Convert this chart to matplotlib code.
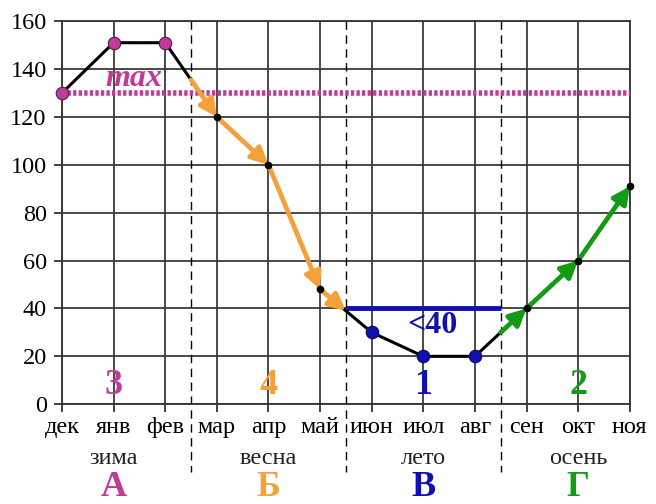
import numpy as np
import matplotlib
matplotlib.use('Agg')
import matplotlib.pyplot as plt

# data
months = ['дек', 'янв', 'фев', 'мар', 'апр', 'май', 'июн', 'июл', 'авг', 'сен', 'окт', 'ноя']
values = [130, 151, 151, 120, 100, 48, 30, 20, 20, 40, 60, 91]
seasons = ['зима', 'весна', 'лето', 'осень']
letters = ['А', 'Б', 'В', 'Г']
season_nums = ['3', '4', '1', '2']
season_centers = [1, 4, 7, 10]
boundaries = [2.5, 5.5, 8.5]
max_level = 130
low_level = 40

magenta = '#c23a98'
orange = '#f5a03a'
blue = '#1010b0'
green = '#159a15'
season_colors = [magenta, orange, blue, green]

plt.rcParams['font.family'] = ['Liberation Serif', 'DejaVu Serif']

x = np.arange(len(months))
fig = plt.figure(figsize=(6.56, 5.04), dpi=100)
ax = fig.add_axes([0.0945, 0.198, 0.8655, 0.760])

ax.set_xlim(0, 11)
ax.set_ylim(0, 160)
ax.set_xticks(x)
ax.set_xticklabels(months)
ax.set_yticks(range(0, 161, 20))
ax.tick_params(axis='both', labelsize=17.5, length=6, width=1.2, color='#222222')
ax.tick_params(axis='x', pad=3)
ax.tick_params(axis='y', pad=5)
ax.grid(True, color='#3a3a3a', linewidth=1.3)
for s in ax.spines.values():
    s.set_color('#333333')
    s.set_linewidth(1.3)
ax.set_axisbelow(True)

# season boundaries (dashed, run down into the labels)
for b in boundaries:
    ax.plot([b, b], [160, -28.5], color='black', linestyle=(0, (6, 4)),
            linewidth=1.0, clip_on=False, zorder=2)

# max level and "<40" line
ax.plot([0, 11], [max_level, max_level], color=magenta, linewidth=4,
        linestyle=(0, (0.6, 0.4)), zorder=3)
ax.plot([boundaries[1], boundaries[2]], [low_level, low_level], color=blue,
        linewidth=3.5, solid_capstyle='butt', zorder=3)

# main line
ax.plot(x, values, color='black', linewidth=2.2, zorder=4)


def arrows(xs, color):
    ys = np.interp(xs, x, values)
    for i in range(len(xs) - 1):
        ax.annotate('', xy=(xs[i + 1], ys[i + 1]), xytext=(xs[i], ys[i]),
                    arrowprops=dict(arrowstyle='-|>,head_length=1.0,head_width=0.5',
                                    color=color, lw=3.4, shrinkA=0, shrinkB=0),
                    zorder=5)


arrows([2.5, 3, 4, 5, 5.5], orange)
arrows([8.5, 9, 10, 11], green)

# markers
ax.plot(x[0:3], values[0:3], 'o', color=magenta, markersize=9,
        markeredgecolor='#5a1a48', markeredgewidth=0.8, zorder=6, clip_on=False)
ax.plot(x[6:9], values[6:9], 'o', color=blue, markersize=9,
        markeredgecolor='#0a0a60', markeredgewidth=0.8, zorder=6, clip_on=False)
for i in [3, 4, 5, 9, 10, 11]:
    ax.plot(x[i], values[i], 'o', color='black', markersize=4.5, zorder=6, clip_on=False)

ax.text(1.4, 136, 'max', color=magenta, fontsize=23, fontweight='bold',
        fontstyle='italic', ha='center', va='center', zorder=7)
ax.text(7.17, 33, '<40', color=blue, fontsize=23, fontweight='bold',
        ha='center', va='center', zorder=7)

for c, num, season, letter, col in zip(season_centers, season_nums, seasons, letters, season_colors):
    ax.text(c, 8, num, color=col, fontsize=26, fontweight='bold',
            ha='center', va='center', zorder=7)
    ax.text(c, -22.6, season, color='#222222', fontsize=17.5,
            ha='center', va='center', clip_on=False)
    ax.text(c, -34.7, letter, color=col, fontsize=26, fontweight='bold',
            ha='center', va='center', clip_on=False)

fig.savefig('out.png', dpi=100)
